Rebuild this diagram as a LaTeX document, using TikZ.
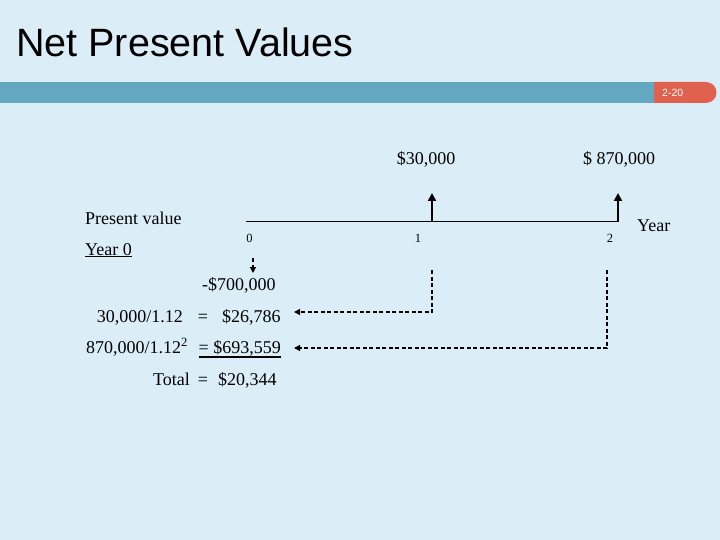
\documentclass[tikz,border=0pt]{standalone}
\usepackage{fontspec}
\setmainfont{Liberation Serif}
\newfontfamily\titlefont{Liberation Sans}
\usetikzlibrary{arrows.meta}
\definecolor{bgc}{HTML}{DBEEF8}
\definecolor{barc}{HTML}{64A7C0}
\definecolor{redc}{HTML}{E0614E}
\tikzset{
  lbl/.style={inner sep=0pt, font=\fontsize{18}{20}\selectfont, anchor=base},
  tick/.style={inner sep=0pt, font=\fontsize{12.5}{14}\selectfont, anchor=base},
  cf/.style={line width=2.2pt, -{Triangle[length=8pt,width=8pt]}},
  dsh/.style={line width=1.2pt, dash pattern=on 4pt off 2.5pt, -{Triangle[length=6pt,width=6pt]}},
  dshl/.style={line width=1.2pt, dash pattern=on 4pt off 2.5pt}
}
\begin{document}
\begin{tikzpicture}[x=1pt,y=-1pt]
\fill[bgc] (0,0) rectangle (720,540);
\useasboundingbox (0,0) rectangle (720,540);
% title
\node[inner sep=0pt, anchor=base west, font=\titlefont\fontsize{39.5}{42}\selectfont] (title) at (16,57) {Net Present Values};
% bar
\fill[barc] (0,82) rectangle (656,103);
\fill[redc] (654,82) -- (706,82) arc[start angle=-90, end angle=90, radius=10.5] -- (654,103) -- cycle;
\node[inner sep=0pt, anchor=base west, text=white, font=\titlefont\fontsize{10.5}{12}\selectfont] (pg) at (662,97) {2-20};
% timeline
\coordinate (t0) at (246,222);
\coordinate (t1) at (432,222);
\coordinate (t2) at (618,222);
\draw[line width=1pt] (t0) -- (t2);
\coordinate (u1) at (432,193);
\coordinate (u2) at (618,193);
\draw[cf] (t1) -- (u1);
\draw[cf] (t2) -- (u2);
\node[lbl, anchor=base] (c1) at (426,165) {\$30,000};
\node[lbl, anchor=base] (c2) at (619,165) {\$ 870,000};
\node[tick] (k0) at (249.5,243) {0};
\node[tick] (k1) at (418,243) {1};
\node[tick] (k2) at (610,243) {2};
\node[lbl, anchor=base west] (yr) at (637,232) {Year};
% left labels
\node[lbl, anchor=base west] (pv) at (85,225) {Present value};
\node[lbl, anchor=base west] (y0) at (85,255) {\underline{Year 0}};
\coordinate (d0a) at (253,258);
\coordinate (d0b) at (253,273);
\draw[dshl, -{Triangle[length=6pt,width=6pt]}] (d0a) -- (d0b);
\node[lbl, anchor=base west] (m700) at (202,290) {-\$700,000};
% calculations
\node[lbl, anchor=base east] (r1a) at (183,322) {30,000/1.12};
\node[lbl, anchor=base] (r1b) at (203,322) {=};
\node[lbl, anchor=base west] (r1c) at (222,322) {\$26,786};
\node[lbl, anchor=base east] (r2a) at (188,353) {870,000/1.12\textsuperscript{2}};
\node[lbl, anchor=base west] (r2b) at (198.5,353) {= \$693,559};
\draw[line width=2pt] ([yshift=-1.5pt]r2b.south west) -- ([yshift=-1.5pt]r2b.south east);
\node[lbl, anchor=base east] (r3a) at (190,385) {Total};
\node[lbl, anchor=base] (r3b) at (203,385) {=};
\node[lbl, anchor=base west] (r3c) at (218,385) {\$20,344};
% dashed connectors
\coordinate (a1) at (432,270);
\coordinate (b1) at (432,312);
\coordinate (e1) at (294,312);
\coordinate (a2) at (607,270);
\coordinate (b2) at (607,348);
\coordinate (e2) at (294,348);
\draw[dsh] (a1) -- (b1) -- (e1);
\draw[dsh] (a2) -- (b2) -- (e2);
\end{tikzpicture}
\end{document}
